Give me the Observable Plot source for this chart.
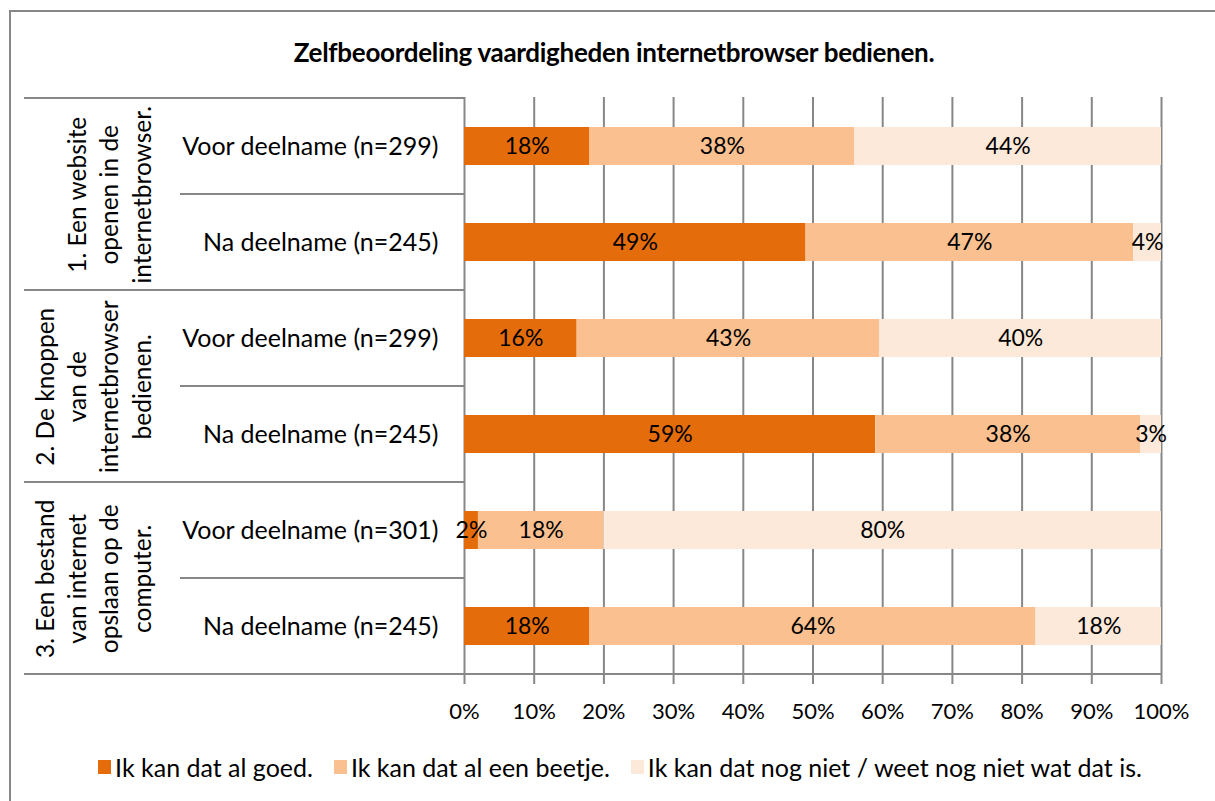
<!DOCTYPE html>
<html>
<head>
<meta charset="utf-8">
<script src="https://cdn.jsdelivr.net/npm/d3@7"></script>
<script src="https://cdn.jsdelivr.net/npm/@observablehq/plot@0.6"></script>
<style>
  html, body { margin: 0; padding: 0; background: #fff; }
  body { width: 1215px; height: 801px; overflow: hidden; position: relative; font-family: Lato, "Open Sans", sans-serif; }
  #frame { position: absolute; left: 9px; top: 10px; width: 1230px; height: 820px; border: 2px solid #878787; box-sizing: border-box; }
  #title { position: absolute; left: 0; width: 1228px; top: 36px; text-align: center; font-weight: bold; font-size: 26px; color: #000; letter-spacing: -0.3px; }
  #chart { position: absolute; left: 0; top: 0; }
  #legend { position: absolute; left: 0; width: 1240px; top: 752px; display: flex; justify-content: center; font-size: 25px; color: #000; }
  #legend .item { display: flex; align-items: center; margin-right: 21px; }
  #legend .item:last-child { margin-right: 0; }
  #legend .sw { width: 13px; height: 14px; margin-right: 4px; }
</style>
</head>
<body>
<div id="frame"></div>
<div id="title">Zelfbeoordeling vaardigheden internetbrowser bedienen.</div>
<div id="chart"></div>
<div id="legend"></div>
<script>
// ---- data ----
const groups = ["1. Een website\nopenen in de\ninternetbrowser.", "2. De knoppen\nvan de\ninternetbrowser\nbedienen.", "3. Een bestand\nvan internet\nopslaan op de\ncomputer."];
const rowLabels = ["Voor deelname (n=299)", "Na deelname (n=245)", "Voor deelname (n=299)", "Na deelname (n=245)", "Voor deelname (n=301)", "Na deelname (n=245)"];
const rowGroup = [0, 0, 1, 1, 2, 2];
const levels = ["Ik kan dat al goed.", "Ik kan dat al een beetje.", "Ik kan dat nog niet / weet nog niet wat dat is."];
const colors = ["#E46C0A", "#FAC090", "#FDE9D9"];
const goed   = [18, 49, 16, 59, 2, 18];
const beetje = [38, 47, 43, 38, 18, 64];
const niet   = [44, 4, 40, 3, 80, 18];
const xTicks = [0, 0.1, 0.2, 0.3, 0.4, 0.5, 0.6, 0.7, 0.8, 0.9, 1];

// ---- table built from arrays ----
const keys = rowLabels.map((l, i) => i + "|" + l);
const series = [goed, beetje, niet];
const data = [];
keys.forEach((k, i) => levels.forEach((lev, j) => data.push({key: k, level: lev, value: series[j][i]})));
const groupData = groups.map((g, gi) => ({text: g, key: keys[rowGroup.indexOf(gi)]}));

const W = 1215, H = 750;
const mL = 464, mR = 54, mT = 97, mB = 74;

const chart = Plot.plot({
  width: W, height: H,
  marginLeft: mL, marginRight: mR, marginTop: mT, marginBottom: mB,
  style: {fontFamily: "Lato, 'Open Sans', sans-serif", fontSize: "22px", color: "#000", background: "transparent", overflow: "visible"},
  x: {domain: [0, 1]},
  y: {domain: keys, paddingInner: 0.6, paddingOuter: 0.3},
  color: {domain: levels, range: colors},
  marks: [
    Plot.gridX(xTicks, {stroke: "#878787", strokeWidth: 2, strokeOpacity: 1}),
    Plot.barX(data, Plot.stackX({x: "value", y: "key", fill: "level", offset: "normalize", order: levels})),
    Plot.text(data, Plot.stackX({x: "value", y: "key", z: "level", text: d => d.value + "%", offset: "normalize", order: levels, fill: "#000", fontSize: 23})),
    Plot.axisX({ticks: xTicks, tickFormat: d3.format(".0%"), tickSize: 8, tickPadding: 19, stroke: "#878787", strokeWidth: 2, fill: "#000", fontSize: 22, label: null}),
    Plot.axisY({tickSize: 0, tickPadding: 26, tickFormat: d => d.split("|")[1], fill: "#000", fontSize: 25, label: null}),
    Plot.text(groupData, {y: "key", text: "text", frameAnchor: "left", rotate: -90, textAnchor: "middle", lineAnchor: "bottom", lineHeight: 1.31, dx: -314, dy: 48.25, fill: "#000", fontSize: 24.5})
  ]
});
document.getElementById("chart").appendChild(chart);

// table separator lines using the plot's own scales
const ys = chart.scale("y"), xs = chart.scale("x");
const halfPad = (ys.step - ys.bandwidth) / 2;
const rowTop = k => ys.apply(k) - halfPad;
const rowBottom = k => ys.apply(k) + ys.bandwidth + halfPad;
const xZero = xs.apply(0), xFull = xs.apply(1);
const tableLeft = xZero - 440, catLeft = xZero - 284;
const svgSel = d3.select(chart);
const gLines = svgSel.append("g").attr("stroke", "#878787").attr("stroke-width", 2);
const lines = [];
keys.forEach((k, i) => {
  if (i === 0 || rowGroup[i] !== rowGroup[i - 1]) lines.push([tableLeft, xZero, rowTop(k)]);
  else lines.push([catLeft, xZero, rowTop(k)]);
});
lines.push([tableLeft, xFull, rowBottom(keys[keys.length - 1])]);
lines.forEach(([a, b, y]) => gLines.append("line").attr("x1", a).attr("x2", b).attr("y1", y).attr("y2", y));

// legend
const lg = document.getElementById("legend");
levels.forEach((l, i) => {
  const it = document.createElement("div"); it.className = "item";
  const sw = document.createElement("div"); sw.className = "sw"; sw.style.background = colors[i];
  const t = document.createElement("span"); t.textContent = l;
  it.appendChild(sw); it.appendChild(t); lg.appendChild(it);
});
</script>
</body>
</html>
